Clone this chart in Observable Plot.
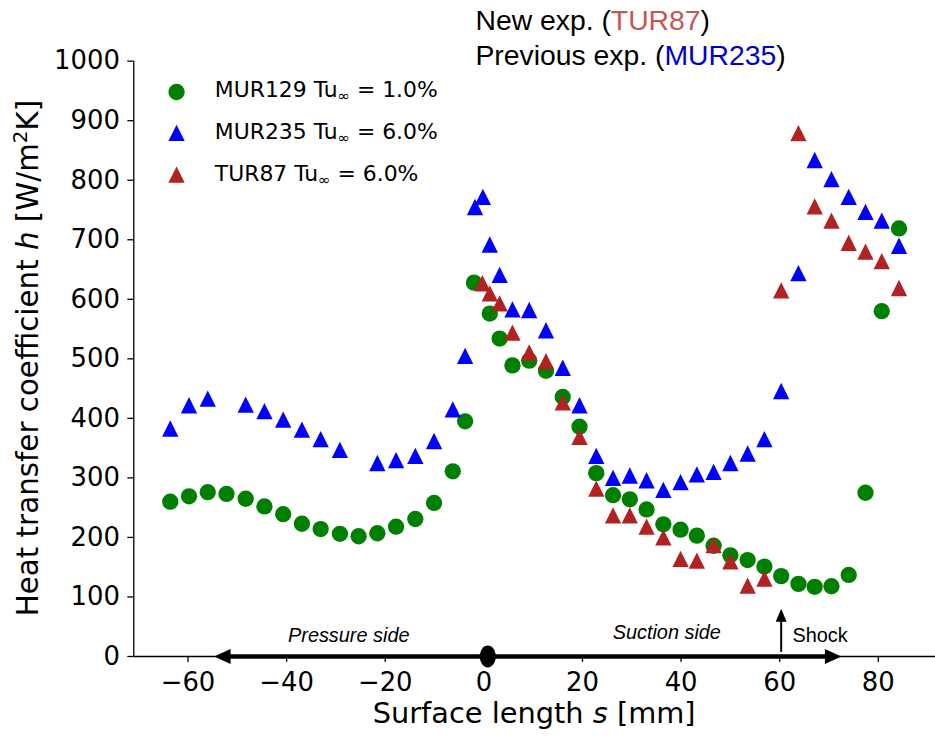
<!DOCTYPE html>
<html><head><meta charset="utf-8">
<script src="https://cdn.jsdelivr.net/npm/d3@7"></script>
<script src="https://cdn.jsdelivr.net/npm/@observablehq/plot@0.6"></script>
<style>
body{margin:0;background:#fff;}
#wrap{position:relative;width:935px;height:737px;overflow:hidden;background:#fff;}
</style></head><body><div id="wrap"></div>
<script>
// ---- data ----
const sMUR129 = [-63.6,-59.8,-56.0,-52.2,-48.3,-44.5,-40.7,-36.9,-33.1,-29.2,-25.4,-21.6,-17.8,-13.9,-10.1,-6.3,-3.8,-2.0,1.2,3.2,5.8,9.2,12.6,16.0,19.4,22.8,26.2,29.6,33.0,36.4,39.9,43.2,46.6,50.0,53.5,56.9,60.3,63.8,67.1,70.5,74.0,77.4,80.7,84.2];
const hMUR129 = [260,269,276,273,265,252,239,223,214,206,202,207,218,231,258,311,395,628,576,534,489,497,480,436,386,308,271,264,247,222,213,203,186,170,162,151,135,122,117,118,137,275,580,719];
const sMUR235 = [-63.6,-59.8,-56.0,-48.3,-44.5,-40.7,-36.9,-33.1,-29.2,-21.6,-17.8,-13.9,-10.1,-6.3,-3.8,-1.8,-0.2,1.2,3.2,5.8,9.2,12.6,16.0,19.4,22.8,26.2,29.6,33.0,36.4,39.9,43.2,46.6,50.0,53.5,56.9,60.3,63.8,67.1,70.5,74.0,77.4,80.7,84.2];
const hMUR235 = [383,422,433,423,412,398,381,365,347,325,330,337,362,415,505,755,772,692,641,583,582,548,485,422,337,300,304,296,280,293,306,310,325,341,365,446,644,834,802,772,747,732,690];
const sTUR87 = [-0.3,1.2,3.2,5.8,9.2,12.6,16.0,19.4,22.8,26.2,29.6,33.0,36.4,39.9,43.2,46.6,50.0,53.5,56.9,60.3,63.8,67.1,70.5,74.0,77.4,80.7,84.2];
const hTUR87 = [627,610,593,544,511,496,427,369,282,237,237,218,200,164,161,187,160,119,131,615,879,756,732,695,680,664,619];

const seriesNames = ["MUR129", "MUR235", "TUR87"];
const seriesLabels = ["MUR129 Tu", "MUR235 Tu", "TUR87 Tu"];
const seriesTu = [" = 1.0%", " = 6.0%", " = 6.0%"];
const seriesColors = ["#008000", "#0000ff", "#b22222"];

const xTicks = [-60,-40,-20,0,20,40,60,80];
const yTicks = [0,100,200,300,400,500,600,700,800,900,1000];

// annotations
const sideLabels = ["Pressure side", "Suction side"];
const sideLabelS = [-27.4, 37.1];
const sideLabelH = [23.5, 29.5];
const surfaceArrowS = [-54.7, 72.5];   // arrow tips along s axis
const leadingEdgeS = 0.8;
const shockS = 60.3;
const shockArrowH = [7, 80];           // shaft bottom, tip

// ---- symbols ----
const mplTriangle = {draw(ctx, size){ const a = Math.sqrt(size/Math.PI); ctx.moveTo(0,-a); ctx.lineTo(a,a); ctx.lineTo(-a,a); ctx.closePath(); }};
const ellipseSym = {draw(ctx){ const rx = 8, ry = 11, k = 0.5523;
  ctx.moveTo(rx,0);
  ctx.bezierCurveTo(rx, ry*k, rx*k, ry, 0, ry);
  ctx.bezierCurveTo(-rx*k, ry, -rx, ry*k, -rx, 0);
  ctx.bezierCurveTo(-rx, -ry*k, -rx*k, -ry, 0, -ry);
  ctx.bezierCurveTo(rx*k, -ry, rx, -ry*k, rx, 0);
  ctx.closePath(); }};
const headRight = {draw(ctx){ ctx.moveTo(0,0); ctx.lineTo(-16.5,-7.5); ctx.lineTo(-16.5,7.5); ctx.closePath(); }};
const headLeft  = {draw(ctx){ ctx.moveTo(0,0); ctx.lineTo(16.5,-7.5); ctx.lineTo(16.5,7.5); ctx.closePath(); }};
const headUp    = {draw(ctx){ ctx.moveTo(0,0); ctx.lineTo(-5.5,13); ctx.lineTo(5.5,13); ctx.closePath(); }};

const table = (s, h) => s.map((v, i) => ({s: v, h: h[i]}));
const d129 = table(sMUR129, hMUR129);
const d235 = table(sMUR235, hMUR235);
const d87 = table(sTUR87, hTUR87);

const xDomain = [-71.0, 91.6];
const fmt = d => d < 0 ? "\u2212" + Math.abs(d) : String(d);

const chart = Plot.plot({
  width: 940, height: 737,
  marginLeft: 134, marginRight: 0, marginTop: 61, marginBottom: 77.5,
  style: {fontFamily: "DejaVu Sans", fontSize: "26px", color: "black", background: "white", overflow: "visible"},
  x: {domain: xDomain},
  y: {domain: [0, 1000]},
  marks: [
    Plot.axisX({ticks: xTicks, tickFormat: fmt, tickSize: 6, tickPadding: 10, label: null, strokeWidth: 1.3, fontSize: 26}),
    Plot.axisY({ticks: yTicks, tickFormat: d => String(d), tickSize: 6, tickPadding: 8, label: null, strokeWidth: 1.3, fontSize: 26}),
    Plot.ruleX([xDomain[0]], {stroke: "black", strokeWidth: 1.3}),
    Plot.ruleY([0], {stroke: "black", strokeWidth: 1.3}),
    // data
    Plot.dot(d129, {x: "s", y: "h", r: 8.2, fill: seriesColors[0], symbol: "circle"}),
    Plot.dot(d235, {x: "s", y: "h", r: 8.2, fill: seriesColors[1], symbol: mplTriangle}),
    Plot.dot(d87,  {x: "s", y: "h", r: 8.2, fill: seriesColors[2], symbol: mplTriangle}),
    // surface arrow along s
    Plot.ruleY([0], {x1: surfaceArrowS[0] + 2.5, x2: surfaceArrowS[1] - 2.5, stroke: "black", strokeWidth: 4.5}),
    Plot.dot([surfaceArrowS[0]], {x: d => d, y: 0, symbol: headLeft, r: 5, fill: "black"}),
    Plot.dot([surfaceArrowS[1]], {x: d => d, y: 0, symbol: headRight, r: 5, fill: "black"}),
    Plot.dot([leadingEdgeS], {x: d => d, y: 0, symbol: ellipseSym, r: 5, fill: "black"}),
    Plot.text(sideLabels, {x: (d, i) => sideLabelS[i], y: (d, i) => sideLabelH[i], text: d => d, fontStyle: "italic", fontFamily: "Liberation Sans", fontSize: 20, lineAnchor: "bottom", textAnchor: "middle", fill: "black"}),
    // shock
    Plot.ruleX([shockS], {y1: shockArrowH[0], y2: shockArrowH[1] - 15, stroke: "black", strokeWidth: 2}),
    Plot.dot([shockS], {x: d => d, y: shockArrowH[1], symbol: headUp, r: 5, fill: "black"}),
    Plot.text(["Shock"], {x: shockS + 2.3, y: 23.5, text: d => d, fontFamily: "Liberation Sans", fontSize: 20, lineAnchor: "bottom", textAnchor: "start", fill: "black"}),
    // legend markers
    Plot.dot([0], {frameAnchor: "top-left", dx: 177 - 134, dy: 92 - 61, r: 8.2, fill: seriesColors[0], symbol: "circle"}),
    Plot.dot([0], {frameAnchor: "top-left", dx: 177 - 134, dy: 133 - 61, r: 8.2, fill: seriesColors[1], symbol: mplTriangle}),
    Plot.dot([0], {frameAnchor: "top-left", dx: 177 - 134, dy: 175 - 61, r: 8.2, fill: seriesColors[2], symbol: mplTriangle})
  ]
});

const svg = d3.select(chart);
// legend text
const legBase = [98, 140, 182];
seriesLabels.forEach((lab, i) => {
  const t = svg.append("text").attr("x", 216).attr("y", legBase[i]).attr("text-anchor", "start")
    .attr("font-family", "DejaVu Sans").attr("font-size", 22).attr("fill", "black");
  t.append("tspan").text(lab);
  t.append("tspan").attr("font-size", 15).attr("dy", 4).text("\u221e");
  t.append("tspan").attr("dy", -4).text(seriesTu[i]);
});
// axis labels
const xl = svg.append("text").attr("x", 537).attr("y", 727).attr("text-anchor", "middle")
  .attr("font-family", "DejaVu Sans").attr("font-size", 29).attr("fill", "black");
xl.append("tspan").text("Surface length ");
xl.append("tspan").attr("font-style", "italic").text("s");
xl.append("tspan").text(" [mm]");
const yl = svg.append("text").attr("transform", "translate(38,360) rotate(-90)").attr("text-anchor", "middle")
  .attr("font-family", "DejaVu Sans").attr("font-size", 29.5).attr("fill", "black");
yl.append("tspan").text("Heat transfer coefficient ");
yl.append("tspan").attr("font-style", "italic").text("h");
yl.append("tspan").text(" [W/m");
yl.append("tspan").attr("font-size", 20).attr("dy", -11).text("2");
yl.append("tspan").attr("dy", 11).text("K]");
// title
const titleLines = [["New exp. (", "TUR87", ")", "#c75555"], ["Previous exp. (", "MUR235", ")", "#0000cd"]];
const titleBase = [30, 65];
titleLines.forEach((ln, i) => {
  const t = svg.append("text").attr("x", 478).attr("y", titleBase[i]).attr("text-anchor", "start")
    .attr("font-family", "Liberation Sans").attr("font-size", 28.5).attr("fill", "black");
  t.append("tspan").text(ln[0]);
  t.append("tspan").attr("fill", ln[3]).text(ln[1]);
  t.append("tspan").text(ln[2]);
});

document.getElementById("wrap").appendChild(chart);
</script></body></html>
